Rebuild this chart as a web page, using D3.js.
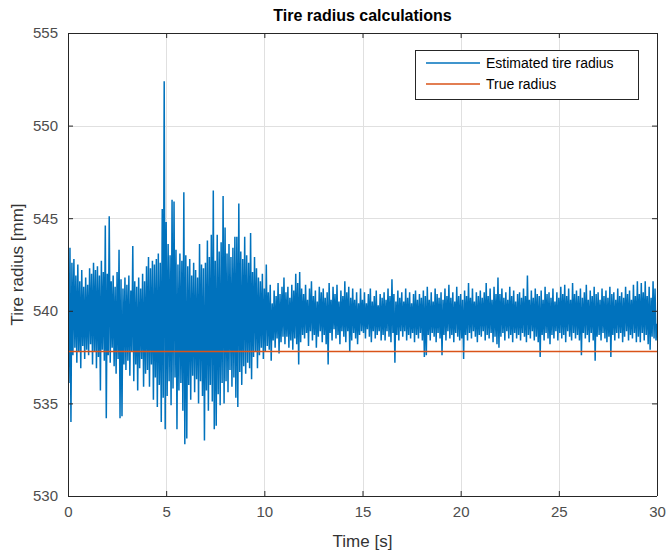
<!DOCTYPE html>
<html>
<head>
<meta charset="utf-8">
<script src="https://cdn.jsdelivr.net/npm/d3@7"></script>
<style>
  html, body { margin: 0; padding: 0; background: #fff; }
  svg { display: block; font-family: "Liberation Sans", Arial, Helvetica, sans-serif; }
</style>
</head>
<body>
<svg id="chart" width="668" height="552"></svg>
<script>
// ---- data ----
const title = "Tire radius calculations";
const xLabel = "Time [s]";
const yLabel = "Tire radius [mm]";
const seriesNames = ["Estimated tire radius", "True radius"];
const xTicks = [0, 5, 10, 15, 20, 25, 30];
const yTicks = [530, 535, 540, 545, 550, 555];
const sampleStep = 0.05; // seconds between samples
const trueRadius = 537.8;
// estimated tire radius samples, 20 per second
const estimatedRadius = [
  540.9, 536.1, 543.4, 534.0, 542.6, 537.6, 542.8, 538.0, 541.9, 537.2, 542.5, 537.8, 541.6, 536.9, 542.2, 538.1, 541.3, 537.4, 541.8, 537.9,
  541.4, 537.6, 542.3, 538.2, 542.0, 537.1, 542.6, 537.8, 542.2, 536.9, 542.4, 537.5, 541.9, 535.7, 542.7, 537.9, 542.1, 537.3, 544.6, 534.2,
  542.0, 537.6, 545.1, 537.2, 541.6, 538.0, 541.9, 537.0, 541.3, 536.6, 542.1, 537.4, 543.3, 534.2, 541.7, 534.3, 541.2, 537.1, 541.8, 536.8,
  541.4, 537.3, 541.9, 536.5, 541.1, 537.8, 543.5, 536.2, 541.6, 537.1, 541.3, 535.7, 541.8, 536.9, 541.2, 537.4, 542.0, 535.9, 541.6, 536.6,
  542.4, 536.8, 542.9, 535.9, 542.3, 537.1, 542.7, 535.2, 542.5, 536.4, 542.8, 534.8, 543.1, 536.0, 542.6, 534.0, 545.5, 535.3, 552.4, 533.6,
  544.8, 535.4, 543.6, 536.2, 543.0, 534.9, 546.0, 535.8, 545.9, 536.4, 543.3, 533.6, 542.5, 535.7, 543.1, 536.1, 542.7, 534.6, 546.4, 532.8,
  543.0, 533.1, 542.4, 536.0, 542.8, 535.2, 541.9, 536.5, 542.6, 535.6, 542.2, 536.3, 541.8, 535.0, 543.6, 536.2, 542.5, 535.4, 542.3, 533.0,
  542.6, 535.7, 543.8, 534.6, 542.9, 536.0, 544.1, 535.1, 546.5, 533.6, 542.7, 533.8, 544.1, 535.5, 543.2, 534.9, 543.7, 536.1, 546.2, 535.0,
  544.5, 536.2, 543.1, 535.6, 543.6, 536.8, 542.9, 535.9, 543.4, 536.4, 544.0, 535.3, 544.0, 534.8, 545.8, 536.7, 543.2, 536.0, 542.8, 537.0,
  544.0, 536.6, 543.0, 537.2, 542.6, 536.9, 544.2, 536.3, 542.1, 537.5, 542.9, 537.8, 542.3, 536.9, 541.8, 537.6, 541.6, 538.0, 542.0, 537.4,
  541.2, 537.8, 542.5, 538.1, 541.0, 537.9, 541.4, 537.3, 540.4, 538.4, 541.1, 538.0, 540.8, 538.5, 541.5, 537.7, 540.9, 538.3, 541.3, 538.6,
  541.8, 538.2, 541.0, 538.6, 541.3, 538.0, 540.7, 538.4, 541.4, 537.9, 541.1, 538.5, 542.0, 538.2, 541.5, 537.1, 542.1, 538.3, 541.2, 538.7,
  540.9, 538.5, 541.4, 538.8, 540.6, 538.1, 541.2, 538.9, 541.6, 538.4, 540.8, 538.7, 541.1, 538.0, 540.5, 538.6, 541.3, 538.9, 541.0, 538.3,
  541.2, 538.7, 540.7, 538.2, 541.0, 537.1, 541.5, 538.8, 540.6, 538.4, 541.3, 539.0, 540.9, 538.5, 541.4, 538.7, 540.5, 538.2, 541.1, 538.9,
  540.8, 538.6, 541.6, 538.3, 541.0, 538.9, 541.3, 537.8, 540.7, 538.4, 541.2, 538.8, 540.6, 538.5, 541.0, 538.2, 540.4, 538.7, 541.2, 538.9,
  540.6, 538.8, 541.0, 538.5, 540.4, 539.0, 540.9, 538.6, 541.2, 538.3, 540.5, 538.9, 540.8, 538.5, 541.1, 538.7, 540.3, 538.9, 540.9, 538.4,
  540.7, 538.7, 541.0, 538.4, 540.6, 538.9, 541.2, 538.6, 540.8, 538.3, 541.7, 538.8, 540.9, 537.2, 540.5, 538.7, 541.1, 538.4, 540.7, 538.9,
  541.0, 538.6, 540.5, 538.9, 541.2, 538.4, 540.7, 538.7, 541.0, 538.5, 540.4, 538.8, 540.9, 538.3, 541.1, 538.7, 540.6, 538.5, 540.9, 538.8,
  540.7, 538.4, 541.1, 537.5, 540.8, 537.6, 541.3, 538.7, 540.6, 538.4, 541.0, 538.8, 540.5, 538.6, 541.2, 538.3, 540.9, 538.8, 540.7, 538.5,
  541.0, 537.6, 540.6, 538.7, 541.2, 538.4, 540.8, 538.9, 541.4, 538.5, 540.7, 538.7, 541.0, 538.3, 540.5, 538.8, 541.3, 538.6, 540.8, 538.4,
  540.9, 538.5, 540.6, 537.4, 541.1, 538.7, 540.8, 538.4, 541.5, 538.8, 540.7, 538.5, 541.2, 538.9, 540.5, 538.6, 541.0, 538.3, 540.8, 538.7,
  541.1, 538.6, 540.7, 538.9, 541.0, 538.4, 541.5, 538.7, 540.8, 538.5, 541.2, 538.8, 540.6, 538.3, 541.3, 538.6, 540.9, 538.2, 541.8, 538.0,
  540.9, 538.6, 541.2, 538.8, 540.7, 538.4, 541.0, 538.9, 540.6, 538.5, 541.3, 538.7, 540.8, 538.3, 541.1, 538.8, 540.5, 538.5, 540.9, 538.7,
  541.0, 538.4, 540.7, 538.8, 541.2, 538.6, 540.8, 538.3, 541.9, 538.7, 540.6, 538.5, 541.1, 538.9, 540.7, 538.4, 541.2, 538.6, 540.9, 538.3,
  540.8, 537.5, 541.1, 538.7, 540.6, 538.4, 541.3, 538.8, 540.9, 538.5, 541.0, 538.2, 540.7, 538.7, 541.2, 538.5, 540.5, 538.9, 541.0, 538.4,
  540.7, 538.8, 541.3, 538.5, 540.9, 538.7, 541.4, 538.3, 540.8, 538.9, 541.2, 538.6, 540.6, 538.4, 541.5, 538.8, 540.9, 538.5, 541.1, 538.7,
  540.8, 538.4, 541.2, 537.6, 540.7, 538.8, 541.0, 538.5, 541.4, 538.7, 540.6, 538.3, 541.1, 538.8, 540.8, 538.4, 541.3, 537.3, 540.9, 538.6,
  541.0, 538.7, 540.6, 538.4, 541.2, 538.8, 540.8, 538.5, 541.1, 538.3, 540.7, 538.6, 541.3, 537.5, 540.9, 538.7, 541.0, 538.4, 540.6, 538.8,
  541.2, 538.5, 540.8, 538.8, 541.0, 538.3, 540.7, 538.6, 541.3, 538.9, 540.9, 538.4, 541.1, 538.7, 540.6, 538.5, 541.4, 538.8, 540.8, 538.3,
  541.6, 538.6, 540.9, 538.3, 541.5, 538.8, 541.0, 538.4, 541.6, 538.7, 540.8, 538.2, 541.3, 537.9, 540.7, 538.6, 541.6, 538.5, 541.2, 538.4,
  539.3
];

// ---- chart ----
const W = 668, H = 552;
const m = { left: 68, right: 11, top: 33, bottom: 56 };
const x0 = m.left, x1 = W - m.right, y0 = H - m.bottom, y1 = m.top;
const axisColor = "#262626";
const gridColor = "#e0e0e0";
const blue = "#0072BD", orange = "#D95319";

const svg = d3.select("#chart");
svg.append("rect").attr("width", W).attr("height", H).attr("fill", "#fff");

const x = d3.scaleLinear().domain([0, 30]).range([x0, x1]);
const y = d3.scaleLinear().domain([530, 555]).range([y0, y1]);

// grid
const grid = svg.append("g");
grid.selectAll("line.gx").data(xTicks).join("line")
  .attr("x1", d => Math.round(x(d)) + 0.5).attr("x2", d => Math.round(x(d)) + 0.5)
  .attr("y1", y1).attr("y2", y0).attr("stroke", gridColor).attr("stroke-width", 1);
grid.selectAll("line.gy").data(yTicks).join("line")
  .attr("y1", d => Math.round(y(d)) + 0.5).attr("y2", d => Math.round(y(d)) + 0.5)
  .attr("x1", x0).attr("x2", x1).attr("stroke", gridColor).attr("stroke-width", 1);

// clip
svg.append("clipPath").attr("id", "clip").append("rect")
  .attr("x", x0).attr("y", y1).attr("width", x1 - x0).attr("height", y0 - y1);

const pts = estimatedRadius.map((v, i) => [i * sampleStep, v]);
const line = d3.line().x(d => x(d[0])).y(d => y(d[1]));

svg.append("path").datum(pts).attr("clip-path", "url(#clip)")
  .attr("d", line).attr("fill", "none").attr("stroke", blue).attr("stroke-width", 1.5)
  .attr("stroke-linejoin", "bevel");

svg.append("path").datum([[0, trueRadius], [30, trueRadius]]).attr("clip-path", "url(#clip)")
  .attr("d", line).attr("fill", "none").attr("stroke", orange).attr("stroke-width", 1.5);

// axes (ticks inside, box)
const tickLen = 5;
const xAxisB = d3.axisBottom(x).tickValues(xTicks).tickSize(-tickLen).tickPadding(10).tickFormat(d3.format("d"));
const xAxisT = d3.axisTop(x).tickValues(xTicks).tickSize(-tickLen).tickFormat("");
const yAxisL = d3.axisLeft(y).tickValues(yTicks).tickSize(-tickLen).tickPadding(10).tickFormat(d3.format("d"));
const yAxisR = d3.axisRight(y).tickValues(yTicks).tickSize(-tickLen).tickFormat("");

function styleAxis(g) {
  g.select(".domain").attr("stroke", axisColor).attr("stroke-width", 1);
  g.selectAll(".tick line").attr("stroke", axisColor);
  g.selectAll(".tick text").attr("fill", "#4d4d4d").style("font-size", "15px")
    .style("font-family", "'Liberation Sans', Arial, sans-serif");
}
svg.append("g").attr("transform", `translate(0,${y0})`).call(xAxisB).call(styleAxis)
  .call(g => g.select(".domain").attr("d", `M${x0},0.5H${x1}`));
svg.append("g").attr("transform", `translate(0,${y1})`).call(xAxisT).call(styleAxis)
  .call(g => g.select(".domain").attr("d", `M${x0},0.5H${x1}`));
svg.append("g").attr("transform", `translate(${x0},0)`).call(yAxisL).call(styleAxis)
  .call(g => g.select(".domain").attr("d", `M0.5,${y0}V${y1}`));
svg.append("g").attr("transform", `translate(${x1},0)`).call(yAxisR).call(styleAxis)
  .call(g => g.select(".domain").attr("d", `M0.5,${y0}V${y1}`));

// title & labels
svg.append("text").attr("x", (x0 + x1) / 2).attr("y", 21).attr("text-anchor", "middle")
  .attr("fill", "#000").style("font-size", "16px").style("font-weight", "bold").text(title);
svg.append("text").attr("x", (x0 + x1) / 2).attr("y", 547).attr("text-anchor", "middle")
  .attr("fill", "#333").style("font-size", "17px").text(xLabel);
svg.append("text").attr("transform", `translate(23,${(y0 + y1) / 2}) rotate(-90)`)
  .attr("text-anchor", "middle").attr("fill", "#333").style("font-size", "17px").text(yLabel);

// legend
const lg = svg.append("g");
lg.append("rect").attr("x", 415.5).attr("y", 50.5).attr("width", 223).attr("height", 49)
  .attr("fill", "#fff").attr("stroke", axisColor).attr("stroke-width", 1);
const lgColors = [blue, orange];
seriesNames.forEach((name, i) => {
  const yy = 63 + i * 21;
  lg.append("line").attr("x1", 426).attr("x2", 480).attr("y1", yy).attr("y2", yy)
    .attr("stroke", lgColors[i]).attr("stroke-width", 1.3);
  lg.append("text").attr("x", 486).attr("y", yy + 5).attr("fill", "#000")
    .style("font-size", "14px").text(name);
});
</script>
</body>
</html>
